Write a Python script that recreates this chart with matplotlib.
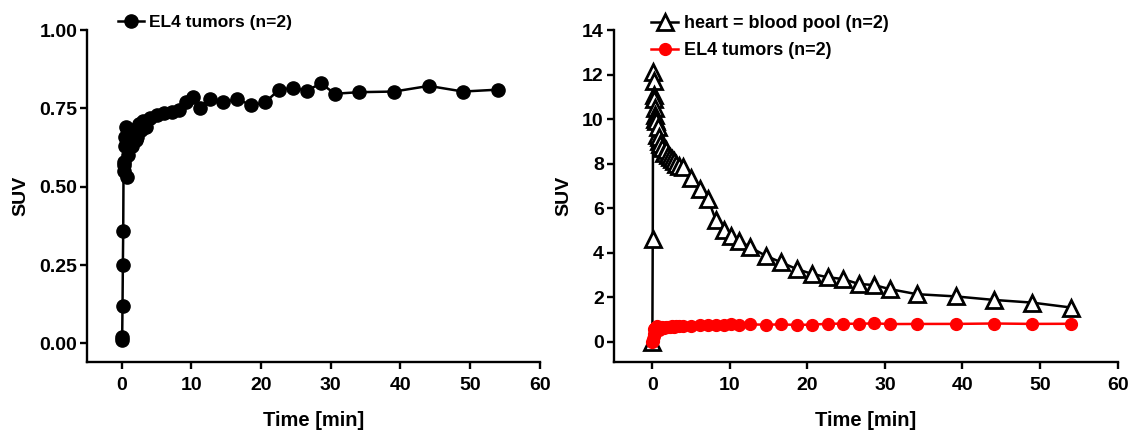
import matplotlib
matplotlib.use("Agg")
import matplotlib.pyplot as plt
import numpy as np

plt.rcParams['font.family'] = ['Liberation Sans', 'DejaVu Sans']
plt.rcParams['font.weight'] = 'bold'

# frame mid-times [min], shared by both series
time_min = [0.0, 0.05, 0.1, 0.15, 0.2, 0.25, 0.3, 0.35, 0.4, 0.5,
            0.6, 0.7, 0.8, 0.9, 1.0, 1.25, 1.5, 1.75, 2.0, 2.25,
            2.5, 2.75, 3.0, 3.5, 4.0, 5.0, 6.1, 7.2, 8.2, 9.2,
            10.2, 11.2, 12.6, 14.6, 16.6, 18.6, 20.6, 22.6, 24.6, 26.6,
            28.6, 30.6, 34.1, 39.1, 44.1, 49.0, 54.0]

tumor_suv = [0.01, 0.02, 0.12, 0.25, 0.36, 0.57, 0.55, 0.58, 0.63, 0.66,
             0.69, 0.65, 0.53, 0.60, 0.66, 0.68, 0.63, 0.67, 0.65, 0.66,
             0.70, 0.68, 0.71, 0.69, 0.72, 0.73, 0.735, 0.74, 0.745, 0.77,
             0.785, 0.75, 0.78, 0.77, 0.78, 0.76, 0.77, 0.81, 0.815, 0.807,
             0.83, 0.797, 0.802, 0.804, 0.822, 0.804, 0.81]

heart_suv = [0.0, 4.6, 12.1, 11.7, 11.1, 10.9, 10.5, 10.2, 10.0, 9.9,
             9.3, 9.65, 9.0, 9.2, 8.9, 8.7, 8.5, 8.6, 8.4, 8.3,
             8.2, 8.1, 8.0, 7.9, 7.85, 7.35, 6.85, 6.4, 5.45, 5.0,
             4.77, 4.55, 4.25, 3.87, 3.57, 3.27, 3.05, 2.9, 2.82, 2.6,
             2.55, 2.37, 2.14, 2.04, 1.88, 1.76, 1.54]

x_ticks = [0, 10, 20, 30, 40, 50, 60]
left_yticks = [0.0, 0.25, 0.5, 0.75, 1.0]
right_yticks = [0, 2, 4, 6, 8, 10, 12, 14]

fig = plt.figure(figsize=(11.3, 4.37), dpi=100)
ax1 = fig.add_axes([0.077, 0.172, 0.4005, 0.759])
ax2 = fig.add_axes([0.543, 0.172, 0.446, 0.759])


def style(ax):
    for s in ['top', 'right']:
        ax.spines[s].set_visible(False)
    for s in ['left', 'bottom']:
        ax.spines[s].set_linewidth(1.7)
    ax.tick_params(width=1.7, length=5, labelsize=14, pad=2)
    ax.tick_params(axis='x', pad=6)
    ax.set_xlim(-5, 60)
    ax.set_xticks(x_ticks)
    ax.set_xlabel("Time [min]", fontsize=14.5, fontweight='bold', labelpad=12)
    ax.set_ylabel("SUV", fontsize=14, fontweight='bold', labelpad=7)


ax1.plot(time_min, tumor_suv, color='black', lw=1.8, marker='o', ms=9.5,
         label="EL4 tumors (n=2)", clip_on=False)
style(ax1)
ax1.set_ylim(-0.059, 1.0)
ax1.set_yticks(left_yticks)
ax1.set_yticklabels(["%.2f" % v for v in left_yticks])
ax1.legend(loc='upper left', bbox_to_anchor=(0.053, 1.066), frameon=False,
           borderaxespad=0, handlelength=1.5, handletextpad=0.3,
           prop={'size': 12.5, 'weight': 'bold'})

ax2.plot(time_min, heart_suv, color='black', lw=1.8, marker='^', ms=11,
         mfc='white', mec='black', mew=2.0, label="heart = blood pool (n=2)",
         clip_on=False)
ax2.plot(time_min, tumor_suv, color='red', lw=1.8, marker='o', ms=8.5,
         label="EL4 tumors (n=2)", clip_on=False)
style(ax2)
ax2.set_ylim(-0.9, 14)
ax2.set_yticks(right_yticks)
ax2.legend(loc='upper left', bbox_to_anchor=(0.06, 1.066), frameon=False,
           borderaxespad=0, handlelength=1.5, handletextpad=0.3,
           labelspacing=0.55, prop={'size': 13, 'weight': 'bold'})

fig.savefig("out.png", dpi=100)
